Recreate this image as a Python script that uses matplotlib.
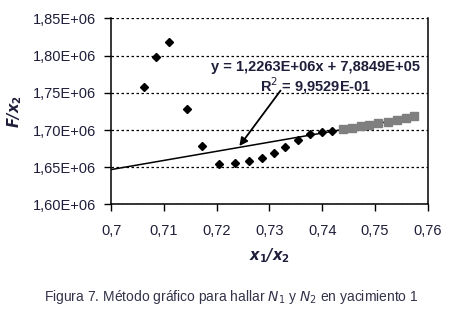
import numpy as np
import matplotlib.pyplot as plt
from matplotlib.ticker import FuncFormatter

# serie de puntos (rombos negros)
x_rombos = [0.7063, 0.7085, 0.7109, 0.7143, 0.7172, 0.7204, 0.7234, 0.7262,
            0.7286, 0.7308, 0.7330, 0.7355, 0.7377, 0.7399, 0.7418]
y_rombos = [1.7577e6, 1.7986e6, 1.8185e6, 1.7288e6, 1.6790e6, 1.6545e6, 1.6560e6,
            1.6585e6, 1.6625e6, 1.6690e6, 1.6775e6, 1.6860e6, 1.6940e6, 1.6970e6, 1.6990e6]

# serie usada para la regresion (cuadrados grises)
x_cuadros = [0.7440, 0.7456, 0.7473, 0.7489, 0.7506, 0.7524, 0.7541, 0.7558, 0.7574]
y_cuadros = [1.7017e6, 1.7033e6, 1.7050e6, 1.7068e6, 1.7090e6, 1.7110e6, 1.7132e6,
             1.7155e6, 1.7185e6]

pendiente = 1.2263e6
intercepto = 7.8849e5

x_ticks = [0.70, 0.71, 0.72, 0.73, 0.74, 0.75, 0.76]
x_labels = ['0,7', '0,71', '0,72', '0,73', '0,74', '0,75', '0,76']
y_ticks = [1.60e6, 1.65e6, 1.70e6, 1.75e6, 1.80e6, 1.85e6]

color_txt = '#1e1e3a'
plt.rcParams['font.family'] = ['Liberation Sans', 'DejaVu Sans']

fig = plt.figure(figsize=(4.63, 3.22), dpi=100)
ax = fig.add_axes([0.240, 0.365, 0.684, 0.578])

# linea de tendencia
xl = np.array([0.70, x_cuadros[-1]])
ax.plot(xl, pendiente * xl + intercepto, color='black', lw=1.1, zorder=2)

ax.plot(x_rombos, y_rombos, linestyle='none', marker='D', color='black', markersize=4, zorder=3)
ax.plot(x_cuadros, y_cuadros, linestyle='none', marker='s', color='#7f7f7f', markersize=5.5, zorder=3)

ax.set_xlim(0.70, 0.76)
ax.set_ylim(1.60e6, 1.85e6)
ax.set_xticks(x_ticks)
ax.set_xticklabels(x_labels)
ax.set_yticks(y_ticks)
ax.yaxis.set_major_formatter(FuncFormatter(lambda v, p: ('%.2fE+06' % (v / 1e6)).replace('.', ',')))
ax.tick_params(axis='both', direction='out', length=5, width=1, labelsize=10.5,
               labelcolor=color_txt, pad=6)
ax.tick_params(axis='x', pad=9)

ax.grid(axis='y', color='black', linestyle=(0, (2, 2)), lw=0.9)
ax.spines['top'].set_visible(False)
for s in ['left', 'bottom', 'right']:
    ax.spines[s].set_linewidth(1.1)

ax.set_ylabel(r'$\mathbfit{F/x}_\mathbf{2}$', fontsize=10.5, color=color_txt, labelpad=6)
ax.set_xlabel(r'$\mathbfit{x}_\mathbf{1}\mathbfit{/x}_\mathbf{2}$', fontsize=10.5, color=color_txt, labelpad=6)

# ecuacion de la recta y flecha
ax.text(0.7387, 1.7700e6, 'y = 1,2263E+06x + 7,8849E+05\nR$^2$ = 9,9529E-01',
        ha='center', va='center', fontsize=10.5, fontweight='bold', color=color_txt,
        linespacing=1.05)
ax.annotate('', xy=(0.7243, 1.6785e6), xytext=(0.7321, 1.7530e6),
            arrowprops=dict(arrowstyle='-|>', color='black', lw=1.3,
                            mutation_scale=12, shrinkA=0, shrinkB=0))

fig.text(0.50, 0.078, r'Figura 7. Método gráfico para hallar $\mathit{N}_1$ y $\mathit{N}_2$ en yacimiento 1',
         ha='center', va='center', fontsize=10, color='#33334a')

fig.savefig('out.png', dpi=100)
